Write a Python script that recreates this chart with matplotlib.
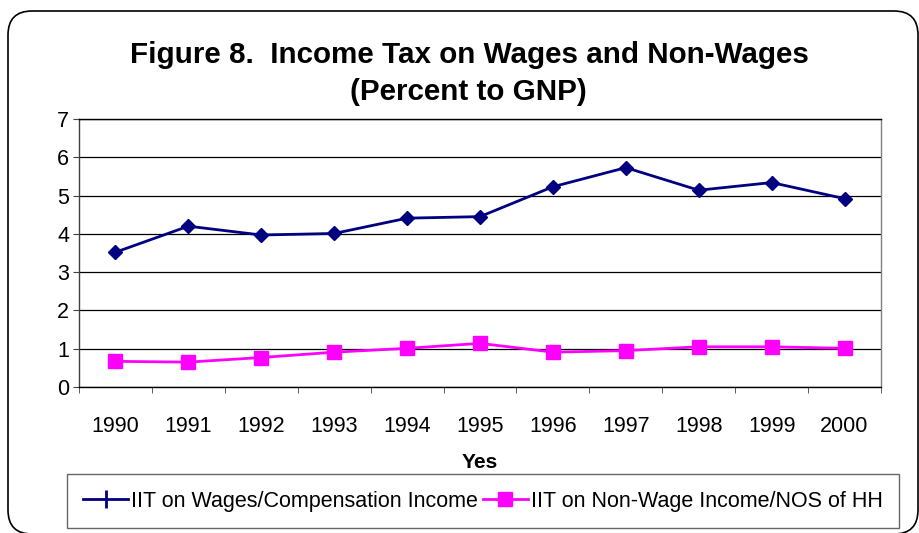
import matplotlib
matplotlib.use('Agg')
import matplotlib.pyplot as plt
from matplotlib.patches import FancyBboxPatch

years = ['1990', '1991', '1992', '1993', '1994', '1995', '1996', '1997', '1998', '1999', '2000']
wages = [3.52, 4.20, 3.97, 4.01, 4.41, 4.45, 5.23, 5.73, 5.14, 5.34, 4.92]
non_wages = [0.67, 0.65, 0.77, 0.91, 1.01, 1.14, 0.91, 0.95, 1.05, 1.05, 1.01]

plt.rcParams['font.family'] = ['Liberation Sans', 'DejaVu Sans']

W, H = 919, 533
fig = plt.figure(figsize=(W / 100, H / 100), dpi=100)

# outer rounded frame (pixel coords)
frame = FancyBboxPatch((8, -1), 910, 523, boxstyle='round,pad=0,rounding_size=24',
                       transform=None, fill=False, edgecolor='black', linewidth=1.2)
fig.patches.append(frame)

ax = fig.add_axes([79 / W, 1 - 387 / H, (881 - 79) / W, (387 - 119) / H])
x = list(range(len(years)))
ax.plot(x, wages, color='#000080', marker='D', markersize=7.5, linewidth=2,
        label='IIT on Wages/Compensation Income')
ax.plot(x, non_wages, color='#FF00FF', marker='s', markersize=10.5, linewidth=2,
        label='IIT on Non-Wage Income/NOS of HH')

ax.set_xlim(-0.5, len(years) - 0.5)
ax.set_ylim(0, 7)
ax.set_yticks(range(0, 8))
ax.yaxis.grid(True, color='black', linewidth=0.9)
ax.set_axisbelow(True)
ax.set_xticks(x)
ax.set_xticklabels(years)
ax.set_xticks([i - 0.5 for i in range(len(years) + 1)], minor=True)
ax.tick_params(axis='x', which='major', length=0, pad=21, labelsize=15.5)
ax.tick_params(axis='x', which='minor', length=4, direction='out', color='#404040')
ax.tick_params(axis='y', length=4, direction='out', color='#404040', labelsize=15.5, pad=3)

ax.spines['top'].set_color('black')
ax.spines['right'].set_color('#808080')
ax.spines['left'].set_color('#404040')
ax.spines['bottom'].set_color('black')
for s in ax.spines.values():
    s.set_linewidth(1.0)

fig.text(469 / W, 1 - 55 / H, 'Figure 8.  Income Tax on Wages and Non-Wages',
         ha='center', va='center', fontsize=21.3, fontweight='bold')
fig.text(468 / W, 1 - 92 / H, '(Percent to GNP)',
         ha='center', va='center', fontsize=21.3, fontweight='bold')
fig.text(480 / W, 1 - 463 / H, 'Yes', ha='center', va='center',
         fontsize=15, fontweight='bold')

h1, = ax.plot([], [], color='#000080', marker='|', markersize=13, markeredgewidth=2, linewidth=2)
h2, = ax.plot([], [], color='#FF00FF', marker='s', markersize=10, linewidth=2)
leg = fig.legend([h1, h2], ['IIT on Wages/Compensation Income', 'IIT on Non-Wage Income/NOS of HH'],
                 loc='center', bbox_to_anchor=(483 / W, 1 - 501 / H), ncol=2,
                 fontsize=15.5, frameon=True, fancybox=False, edgecolor='#404040',
                 handlelength=2.1, handletextpad=0.15, columnspacing=0.2,
                 borderpad=0.75, borderaxespad=0)
leg.get_frame().set_linewidth(1.0)

fig.savefig('out.png', dpi=100)
